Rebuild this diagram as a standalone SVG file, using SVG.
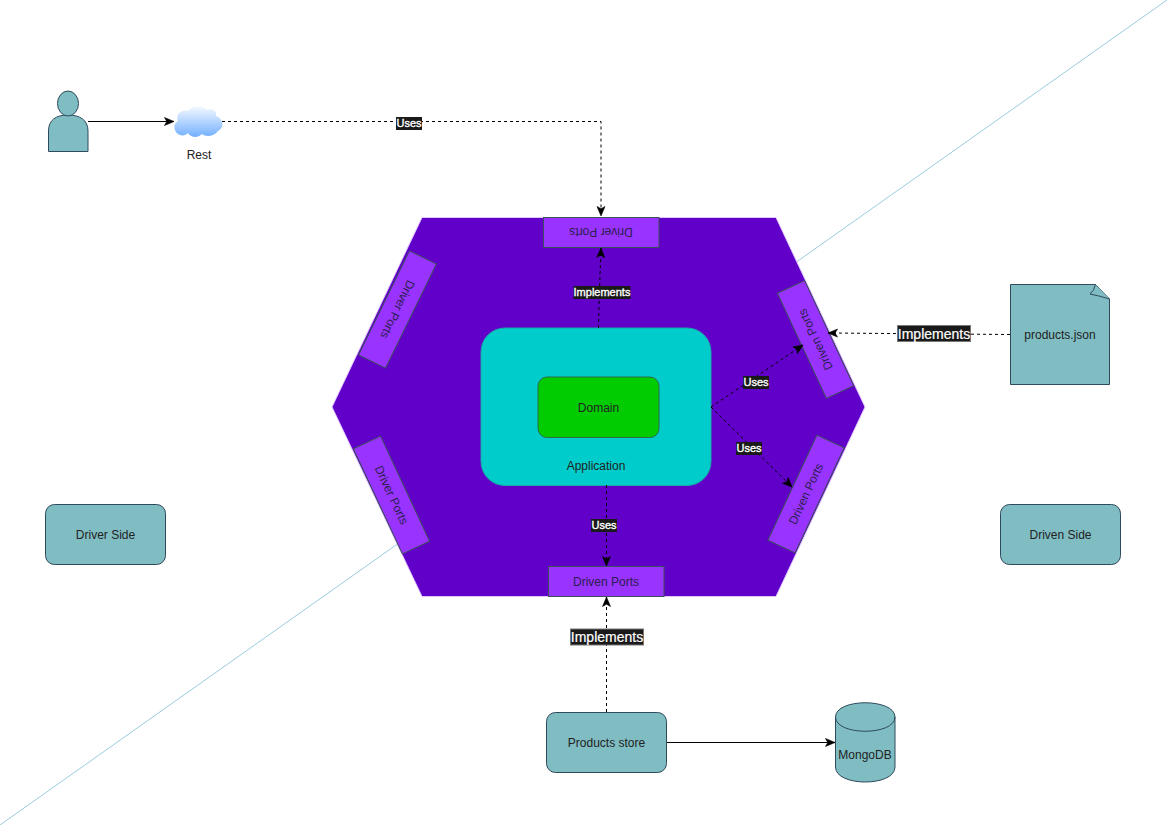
<svg xmlns="http://www.w3.org/2000/svg" width="1167" height="825" viewBox="0 0 1167 825">
<style>
text{font-family:"Liberation Sans",Arial,sans-serif;font-size:12px;fill:#222;text-anchor:middle;dominant-baseline:central}
.teal{fill:#7FBDC2;stroke:#2F4A5C;stroke-width:1}
.port{fill:#9933FF;stroke:#3D4F5C;stroke-width:1}
.port-t{fill:#2A1F4D}
.c{fill:none;stroke:#000;stroke-width:1;marker-end:url(#a)}
.d{stroke-dasharray:3 3}
.lb{fill:#1a1a1a}
.lbb{fill:#1a1a1a;stroke:#777;stroke-width:1}
.l{fill:#fff;font-size:11px;stroke:#fff;stroke-width:.35}
.L{fill:#fff;font-size:14px;stroke:#fff;stroke-width:.2}
</style>
<defs>
<marker id="a" markerUnits="userSpaceOnUse" markerWidth="12" markerHeight="10" refX="10" refY="5" orient="auto"><path d="M.5 1 L10 5 L.5 9 L2.800 5Z" fill="#000" stroke="#000" stroke-width=".6"/></marker>
<linearGradient id="cl" x1="0" y1="0" x2="0" y2="1"><stop offset="0" stop-color="#f4f9ff"/><stop offset="1" stop-color="#74B0FF"/></linearGradient>
</defs>
<line id="diagonal" x1="0" y1="825" x2="1167" y2="0" stroke="#9CCBDF" stroke-width="1"/>
<g id="hexagon"><path d="M422 217.500H776L865 407L776 596.500H422L332 407Z" fill="#6000C8" stroke="#E1C8FF" stroke-width="1"/></g>
<g id="application"><rect x="481" y="328" width="230" height="157.500" rx="24" fill="#00CCCC" stroke="#1aa7a7"/><text x="596" y="466">Application</text></g>
<g id="domain"><rect x="538" y="377" width="121" height="60.500" rx="9" fill="#00CC00" stroke="#2d6b4a"/><text x="598.500" y="408">Domain</text></g>
<g id="port-top"><rect class="port" x="543.500" y="217.500" width="115.500" height="30"/><text class="port-t" transform="rotate(180 601 232)" x="601" y="232">Driver Ports</text></g>
<g id="port-upper-left" transform="rotate(116 397.500 309.500)"><rect class="port" x="339.500" y="294.500" width="116" height="30"/><text class="port-t" x="397.500" y="309.500">Driver Ports</text></g>
<g id="port-lower-left" transform="rotate(65 391.500 495)"><rect class="port" x="333.500" y="480" width="116" height="30"/><text class="port-t" x="391.500" y="495">Driver Ports</text></g>
<g id="port-upper-right" transform="rotate(-115 815.500 339.500)"><rect class="port" x="757.500" y="324.500" width="116" height="30"/><text class="port-t" x="815.500" y="339.500">Driven Ports</text></g>
<g id="port-lower-right" transform="rotate(-65 806 494)"><rect class="port" x="748" y="479" width="116" height="30"/><text class="port-t" x="806" y="494">Driven Ports</text></g>
<g id="port-bottom"><rect class="port" x="548.500" y="566.500" width="115.500" height="30"/><text class="port-t" x="606" y="582">Driven Ports</text></g>
<g id="user"><path class="teal" d="M48.500 151.500V131C48.500 120 56 115 68 115S88 120 88 131V151.500Z"/><ellipse class="teal" cx="68" cy="103.500" rx="10.500" ry="12.500"/></g>
<g id="rest"><path d="M180 135C174 133 172 124 178 121C175 114 182 109 188 111C192 105 203 105 207 110C212 108 217 111 216 116C223 118 225 128 218 131C214 137 205 137 202 134C198 138 191 138 188 133C186 135 183 136 180 135Z" fill="url(#cl)"/><text x="199" y="155">Rest</text></g>
<g id="products-json"><path class="teal" d="M1010.500 284.500H1095.500L1109.500 299V384.500H1010.500Z"/><path d="M1095.500 284.500Q1094 291 1090 294Q1100 296 1109.500 299" fill="#7FBDC2" stroke="#2F4A5C"/><text x="1060" y="335">products.json</text></g>
<g id="driver-side"><rect class="teal" x="45.500" y="504.500" width="120" height="60" rx="9"/><text x="105.500" y="535">Driver Side</text></g>
<g id="driven-side"><rect class="teal" x="1000.500" y="504.500" width="120" height="60" rx="9"/><text x="1060.500" y="535">Driven Side</text></g>
<g id="products-store"><rect class="teal" x="546.500" y="712.500" width="120" height="60" rx="9"/><text x="606.500" y="743">Products store</text></g>
<g id="mongodb"><path class="teal" d="M835.500 717C835.500 698 895 698 895 717V767C895 787 835.500 787 835.500 767Z"/><path d="M835.500 717C835.500 736 895 736 895 717" fill="none" stroke="#2F4A5C"/><text x="865" y="755">MongoDB</text></g>
<g id="connectors">
<path class="c" d="M88 121.500H174"/>
<path class="c d" d="M222 121.500H601V216"/>
<path class="c d" d="M598.500 328C599 300 600 275 601 248"/>
<path class="c d" d="M711 407L803 345"/>
<path class="c d" d="M711 407L792 487"/>
<path class="c d" d="M606.500 485V566"/>
<path class="c d" d="M1010 334.500L828 333"/>
<path class="c d" d="M606.500 712V597"/>
<path class="c" d="M667 742.500H835"/>
</g>
<g id="labels">
<rect class="lb" x="396" y="117" width="26" height="13"/><text class="l" x="409" y="123">Uses</text>
<rect class="lb" x="573.500" y="286" width="57" height="13"/><text class="l" x="602" y="292">Implements</text>
<rect class="lb" x="743" y="376" width="26" height="13"/><text class="l" x="756" y="382">Uses</text>
<rect class="lb" x="736" y="442" width="26" height="13"/><text class="l" x="749" y="448">Uses</text>
<rect class="lb" x="591" y="519" width="26" height="13"/><text class="l" x="604" y="525">Uses</text>
<rect class="lbb" x="897.500" y="325.500" width="73" height="16"/><text class="L" x="934" y="334">Implements</text>
<rect class="lbb" x="570.500" y="629" width="73" height="16"/><text class="L" x="607" y="637">Implements</text>
</g>
</svg>
